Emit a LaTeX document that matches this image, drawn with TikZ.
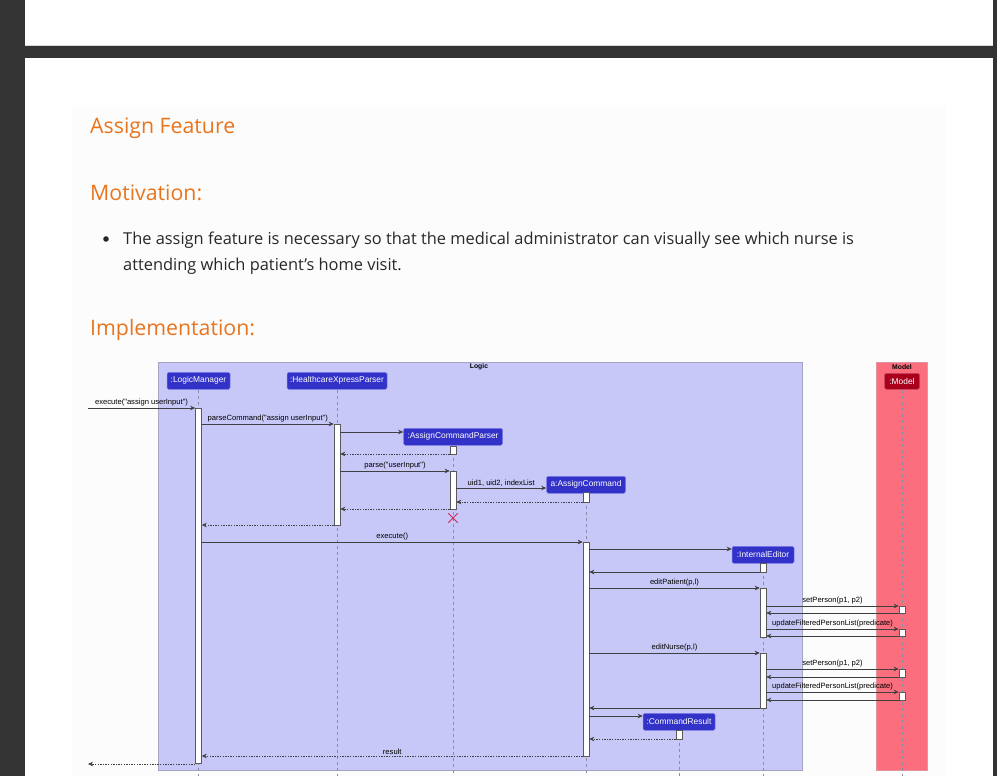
\documentclass[tikz,border=0pt]{standalone}
\usepackage{fontspec}
\setmainfont{Open Sans}
\newfontfamily\dfont{Liberation Sans}
\usetikzlibrary{arrows.meta}
\definecolor{heading}{RGB}{232,116,30}
\definecolor{bodytxt}{RGB}{40,40,40}
\definecolor{darkbar}{RGB}{51,51,51}
\definecolor{panel}{RGB}{252,252,252}
\definecolor{logicfill}{RGB}{200,200,248}
\definecolor{logicborder}{RGB}{165,165,195}
\definecolor{partfill}{RGB}{50,50,200}
\definecolor{partborder}{RGB}{125,125,235}
\definecolor{modelfill}{RGB}{250,110,125}
\definecolor{modelborder}{RGB}{225,150,160}
\definecolor{modelhead}{RGB}{170,0,30}
\definecolor{destroyc}{RGB}{205,40,90}
\definecolor{lifec}{RGB}{140,140,165}
\tikzset{
  part/.style={draw=partborder, fill=partfill, text=white, font=\dfont\fontsize{8.4}{9}\selectfont,
    inner sep=0pt, minimum height=17pt, rounded corners=1.5pt, anchor=north, line width=0.5pt},
  mhead/.style={part, draw=modelhead!70!white, fill=modelhead, minimum height=16pt},
  act/.style={draw=black!65, fill=white, minimum width=6pt, inner sep=0pt, anchor=north, line width=0.6pt},
  msg/.style={draw=black!75, line width=0.6pt, -{Stealth[length=5pt,width=4.5pt,inset=1.6pt]}},
  ret/.style={msg, dash pattern=on 1.4pt off 1.2pt},
  lbl/.style={font=\dfont\fontsize{7.6}{8}\selectfont, text=black, inner sep=1.2pt, above},
  life/.style={draw=lifec, dash pattern=on 3pt off 3pt, line width=0.6pt},
  grp/.style={font=\dfont\bfseries\fontsize{6.8}{8}\selectfont, text=black, inner sep=0pt},
  hd/.style={font=\fontsize{21.3}{26}\selectfont, text=heading, anchor=base west, inner sep=0pt},
  bodyt/.style={font=\fontsize{16.4}{20}\selectfont, text=bodytxt, anchor=base west, inner sep=0pt}
}
\begin{document}
\begin{tikzpicture}[x=1pt,y=-1pt]
\useasboundingbox (0,0) rectangle (997,776);
% page
\fill[white] (0,0) rectangle (997,776);
\fill[darkbar] (0,0) rectangle (25,776);
\fill[darkbar] (993,0) rectangle (997,776);
\fill[darkbar] (25,46) rectangle (993,58);
\draw[black!15, line width=0.6pt] (25,45.5) -- (993,45.5);
\fill[panel] (72,105) rectangle (946,776);
% text
\node[hd] (t1) at (90,133) {Assign Feature};
\node[hd] (t2) at (90,200) {Motivation:};
\fill[bodytxt] (106,239) circle (2.8);
\node[bodyt] (b1) at (123,244) {The assign feature is necessary so that the medical administrator can visually see which nurse is};
\node[bodyt] (b2) at (123,270) {attending which patient’s home visit.};
\node[hd] (t3) at (90,335) {Implementation:};
% boxes
\filldraw[fill=logicfill, draw=logicborder, line width=0.6pt] (158,362) rectangle (802,770);
\node[grp] (logict) at (479,367) {Logic};
\filldraw[fill=modelfill, draw=modelborder, line width=0.6pt] (876,362) rectangle (927,770);
\node[grp] (modelt) at (902,367) {Model};
% participants
\node[part, minimum width=63pt] (lm) at (198.5,372) {:LogicManager};
\node[part, minimum width=100pt] (hx) at (337,372) {:HealthcareXpressParser};
\node[part, minimum width=99pt] (acp) at (453,428) {:AssignCommandParser};
\node[part, minimum width=79pt] (ac) at (586,476) {a:AssignCommand};
\node[part, minimum width=62pt] (ie) at (763,546) {:InternalEditor};
\node[part, minimum width=72pt] (cr) at (679,713) {:CommandResult};
\node[mhead, minimum width=35pt] (md) at (902,373) {:Model};
% lifelines
\coordinate (bot) at (0,776);
\draw[life] (lm.south) -- (lm.south |- bot);
\draw[life] (hx.south) -- (hx.south |- bot);
\draw[life] (acp.south) -- (acp.south |- bot);
\draw[life] (ac.south) -- (ac.south |- bot);
\draw[life] (ie.south) -- (ie.south |- bot);
\draw[life] (cr.south) -- (cr.south |- bot);
\draw[life] (md.south) -- (md.south |- bot);
% activations
\node[act, minimum height=355pt] (lmA) at (198.5,408) {};
\node[act, minimum height=101pt] (hxA) at (337,424) {};
\node[act, minimum height=8pt] (acpA1) at (453,446) {};
\node[act, minimum height=38pt] (acpA2) at (453,471) {};
\node[act, minimum height=10pt] (acA1) at (586,492) {};
\node[act, minimum height=214pt] (acA2) at (586,542) {};
\node[act, minimum height=9pt] (ieA1) at (763,563) {};
\node[act, minimum height=49pt] (ieA2) at (763,588) {};
\node[act, minimum height=55pt] (ieA3) at (763,653) {};
\node[act, minimum height=7pt] (mdA1) at (902,606) {};
\node[act, minimum height=7pt] (mdA2) at (902,629) {};
\node[act, minimum height=8pt] (mdA3) at (902,669) {};
\node[act, minimum height=8pt] (mdA4) at (902,692) {};
\node[act, minimum height=9pt] (crA) at (679,730) {};
% destroy
\node[minimum size=9pt, inner sep=0pt] (dx) at (453,518) {};
\draw[destroyc, line width=1pt] (dx.north west) -- (dx.south east) (dx.north east) -- (dx.south west);
% messages
\coordinate (in1) at (88,408);
\coordinate (out1) at (88,764);
\draw[msg] (in1) -- (lmA.west |- 0,408) node[lbl, midway] {execute("assign userInput")};
\draw[msg] (lmA.east |- 0,424) -- (hxA.west |- 0,424) node[lbl, midway] {parseCommand("assign userInput")};
\draw[msg] (hxA.east |- 0,432) -- (acp.west |- 0,432);
\draw[ret] (acpA1.west |- 0,454) -- (hxA.east |- 0,454);
\draw[msg] (hxA.east |- 0,471) -- (acpA2.west |- 0,471) node[lbl, midway] {parse("userInput")};
\draw[msg] (acpA2.east |- 0,488) -- (ac.west |- 0,488) node[lbl, midway] {uid1, uid2, indexList};
\draw[ret] (acA1.west |- 0,502) -- (acpA2.east |- 0,502);
\draw[ret] (acpA2.west |- 0,509) -- (hxA.east |- 0,509);
\draw[ret] (hxA.west |- 0,525) -- (lmA.east |- 0,525);
\draw[msg] (lmA.east |- 0,542) -- (acA2.west |- 0,542) node[lbl, midway] {execute()};
\draw[msg] (acA2.east |- 0,549) -- (ie.west |- 0,549);
\draw[msg] (ieA1.west |- 0,572) -- (acA2.east |- 0,572);
\draw[msg] (acA2.east |- 0,588) -- (ieA2.west |- 0,588) node[lbl, midway] {editPatient(p,l)};
\draw[msg] (ieA2.east |- 0,606) -- (mdA1.west |- 0,606) node[lbl, midway] {setPerson(p1, p2)};
\draw[msg] (mdA1.west |- 0,613) -- (ieA2.east |- 0,613);
\draw[msg] (ieA2.east |- 0,629) -- (mdA2.west |- 0,629) node[lbl, midway] {updateFilteredPersonList(predicate)};
\draw[msg] (mdA2.west |- 0,636) -- (ieA2.east |- 0,636);
\draw[msg] (acA2.east |- 0,653) -- (ieA3.west |- 0,653) node[lbl, midway] {editNurse(p,l)};
\draw[msg] (ieA3.east |- 0,669) -- (mdA3.west |- 0,669) node[lbl, midway] {setPerson(p1, p2)};
\draw[msg] (mdA3.west |- 0,677) -- (ieA3.east |- 0,677);
\draw[msg] (ieA3.east |- 0,692) -- (mdA4.west |- 0,692) node[lbl, midway] {updateFilteredPersonList(predicate)};
\draw[msg] (mdA4.west |- 0,700) -- (ieA3.east |- 0,700);
\draw[msg] (ieA3.west |- 0,708) -- (acA2.east |- 0,708);
\draw[msg] (acA2.east |- 0,716) -- (cr.west |- 0,716);
\draw[ret] (crA.west |- 0,739) -- (acA2.east |- 0,739);
\draw[ret] (acA2.west |- 0,756) -- (lmA.east |- 0,756) node[lbl, midway] {result};
\draw[ret] (lmA.west |- 0,764) -- (out1);
\end{tikzpicture}
\end{document}
